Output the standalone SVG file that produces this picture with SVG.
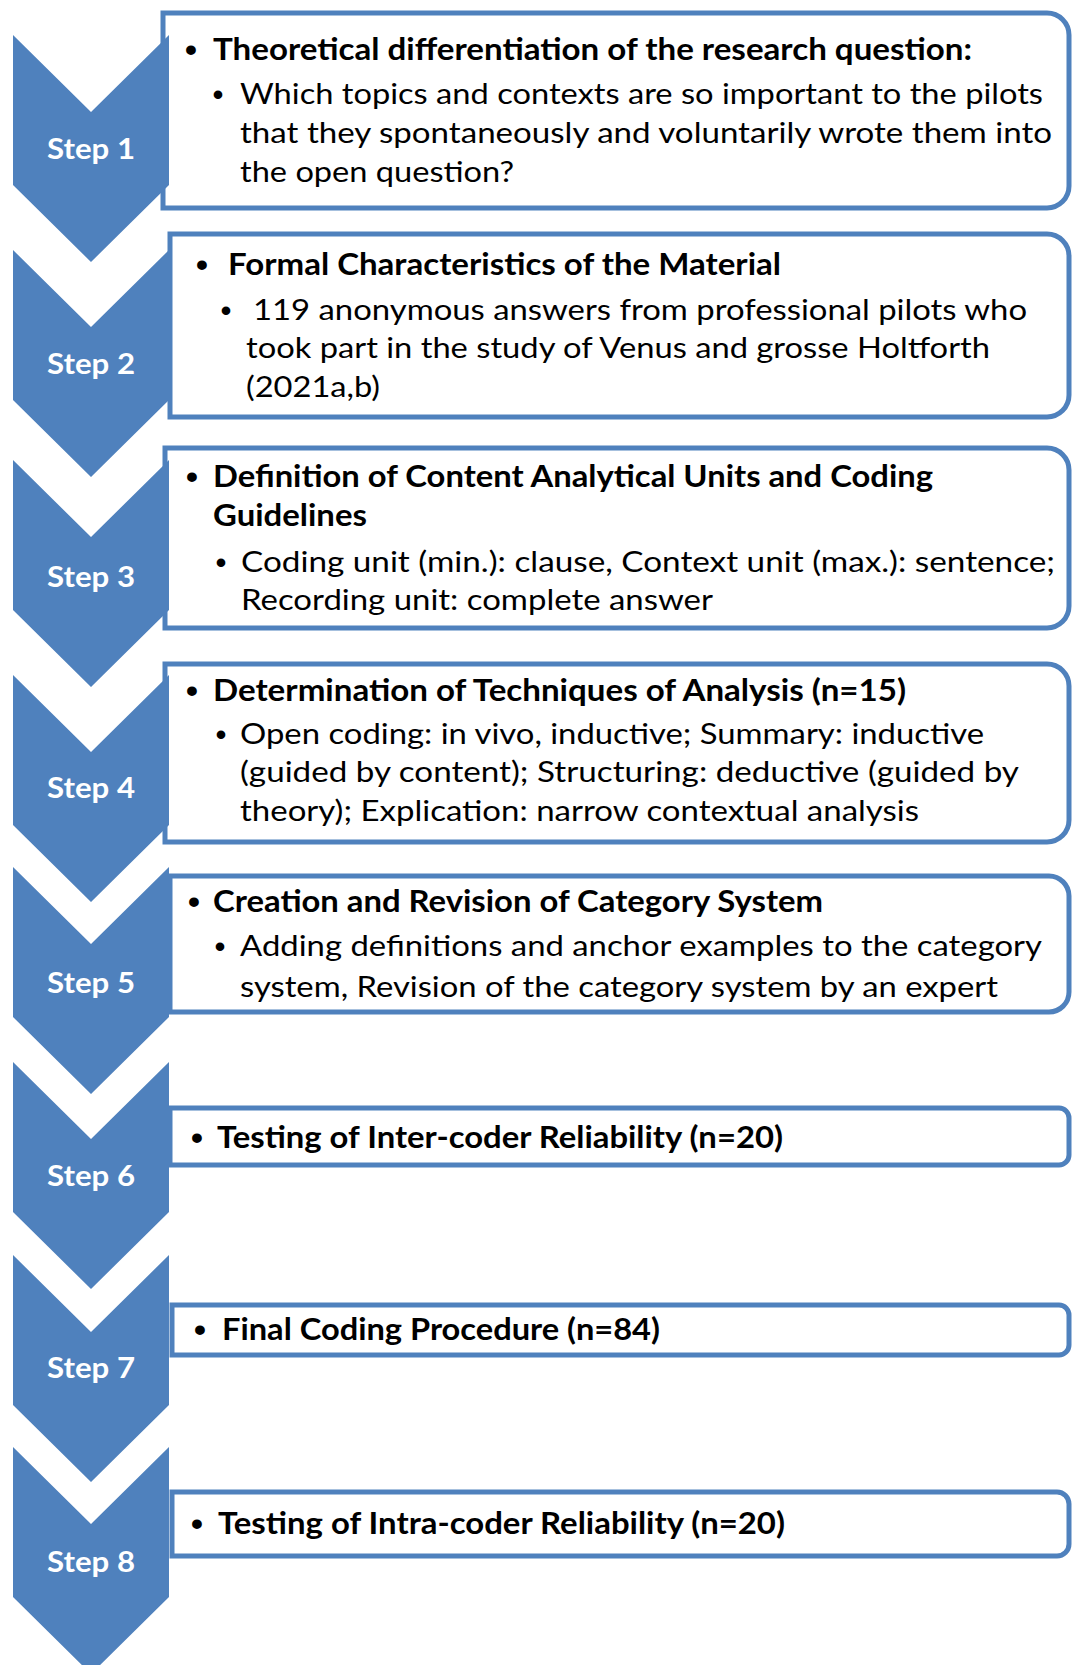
<svg xmlns="http://www.w3.org/2000/svg" width="1072" height="1665" viewBox="0 0 1072 1665">
  <style>
    .chev { fill: #4f81bd; }
    .box { fill: #ffffff; stroke: #4f81bd; stroke-width: 5; }
    .step { font-family: Lato, "Liberation Sans", sans-serif; font-weight: bold; font-size: 28px; fill: #ffffff; text-anchor: middle; }
    .h { font-family: Lato, "Liberation Sans", sans-serif; font-weight: bold; font-size: 31px; fill: #000000; }
    .b { font-family: Lato, "Liberation Sans", sans-serif; font-size: 28px; fill: #000000; }
    .bul { font-family: "Liberation Sans", sans-serif; font-weight: bold; fill: #000000; text-anchor: middle; }
    .bh { font-size: 34px; }
    .bb { font-size: 30px; }
  </style>
  <rect width="1072" height="1665" fill="#ffffff"/>

  <!-- text boxes: square left corners, rounded right corners -->
  <g id="box1"><path class="box" d="M163,13 H1047 A22,22 0 0 1 1069,35 V186 A22,22 0 0 1 1047,208 H163 Z"/>
    <text class="bul bh" x="191" y="61">•</text>
    <text class="h" x="213" y="60" textLength="759" lengthAdjust="spacingAndGlyphs">Theoretical differentiation of the research question:</text>
    <text class="bul bb" x="218" y="105">•</text>
    <text class="b" x="240" y="104" textLength="803" lengthAdjust="spacingAndGlyphs">Which topics and contexts are so important to the pilots</text>
    <text class="b" x="240" y="143" textLength="812" lengthAdjust="spacingAndGlyphs">that they spontaneously and voluntarily wrote them into</text>
    <text class="b" x="240" y="182" textLength="274" lengthAdjust="spacingAndGlyphs">the open question?</text>
  </g>
  <g id="box2"><path class="box" d="M170,234 H1047 A22,22 0 0 1 1069,256 V395 A22,22 0 0 1 1047,417 H170 Z"/>
    <text class="bul bh" x="202" y="276">•</text>
    <text class="h" x="228" y="275" textLength="553" lengthAdjust="spacingAndGlyphs">Formal Characteristics of the Material</text>
    <text class="bul bb" x="226" y="321">•</text>
    <text class="b" x="253" y="320" textLength="774" lengthAdjust="spacingAndGlyphs">119 anonymous answers from professional pilots who</text>
    <text class="b" x="246" y="358" textLength="744" lengthAdjust="spacingAndGlyphs">took part in the study of Venus and grosse Holtforth</text>
    <text class="b" x="246" y="397" textLength="134" lengthAdjust="spacingAndGlyphs">(2021a,b)</text>
  </g>
  <g id="box3"><path class="box" d="M165,448 H1047 A22,22 0 0 1 1069,470 V606 A22,22 0 0 1 1047,628 H165 Z"/>
    <text class="bul bh" x="192" y="488">•</text>
    <text class="h" x="213" y="487" textLength="720" lengthAdjust="spacingAndGlyphs">Definition of Content Analytical Units and Coding</text>
    <text class="h" x="213" y="526" textLength="154" lengthAdjust="spacingAndGlyphs">Guidelines</text>
    <text class="bul bb" x="221" y="573">•</text>
    <text class="b" x="241" y="572" textLength="814" lengthAdjust="spacingAndGlyphs">Coding unit (min.): clause, Context unit (max.): sentence;</text>
    <text class="b" x="241" y="610" textLength="472" lengthAdjust="spacingAndGlyphs">Recording unit: complete answer</text>
  </g>
  <g id="box4"><path class="box" d="M165,664 H1047 A22,22 0 0 1 1069,686 V820 A22,22 0 0 1 1047,842 H165 Z"/>
    <text class="bul bh" x="192" y="702">•</text>
    <text class="h" x="213" y="701" textLength="693" lengthAdjust="spacingAndGlyphs">Determination of Techniques of Analysis (n=15)</text>
    <text class="bul bb" x="221" y="745">•</text>
    <text class="b" x="240" y="744" textLength="744" lengthAdjust="spacingAndGlyphs">Open coding: in vivo, inductive; Summary: inductive</text>
    <text class="b" x="240" y="782" textLength="779" lengthAdjust="spacingAndGlyphs">(guided by content); Structuring: deductive (guided by</text>
    <text class="b" x="240" y="821" textLength="679" lengthAdjust="spacingAndGlyphs">theory); Explication: narrow contextual analysis</text>
  </g>
  <g id="box5"><path class="box" d="M170,876 H1049 A20,20 0 0 1 1069,896 V992 A20,20 0 0 1 1049,1012 H170 Z"/>
    <text class="bul bh" x="194" y="913">•</text>
    <text class="h" x="213" y="912" textLength="610" lengthAdjust="spacingAndGlyphs">Creation and Revision of Category System</text>
    <text class="bul bb" x="220" y="957">•</text>
    <text class="b" x="240" y="956" textLength="802" lengthAdjust="spacingAndGlyphs">Adding definitions and anchor examples to the category</text>
    <text class="b" x="240" y="997" textLength="758" lengthAdjust="spacingAndGlyphs">system, Revision of the category system by an expert</text>
  </g>
  <g id="box6"><path class="box" d="M170,1108 H1059 A10,10 0 0 1 1069,1118 V1155 A10,10 0 0 1 1059,1165 H170 Z"/>
    <text class="bul bh" x="197" y="1149">•</text>
    <text class="h" x="217" y="1148" textLength="566" lengthAdjust="spacingAndGlyphs">Testing of Inter-coder Reliability (n=20)</text>
  </g>
  <g id="box7"><path class="box" d="M172,1305 H1059 A10,10 0 0 1 1069,1315 V1345 A10,10 0 0 1 1059,1355 H172 Z"/>
    <text class="bul bh" x="200" y="1341">•</text>
    <text class="h" x="222" y="1340" textLength="438" lengthAdjust="spacingAndGlyphs">Final Coding Procedure (n=84)</text>
  </g>
  <g id="box8"><path class="box" d="M172,1492 H1057 A12,12 0 0 1 1069,1504 V1544 A12,12 0 0 1 1057,1556 H172 Z"/>
    <text class="bul bh" x="197" y="1535">•</text>
    <text class="h" x="218" y="1534" textLength="567" lengthAdjust="spacingAndGlyphs">Testing of Intra-coder Reliability (n=20)</text>
  </g>

  <!-- step chevrons pointing down -->
  <g id="connectors">
    <g id="step1"><path class="chev" d="M13,35 L91,112 L169,35 V185 L91,262 L13,185 Z"/><text class="step" x="91" y="159" textLength="88" lengthAdjust="spacingAndGlyphs">Step 1</text></g>
    <g id="step2"><path class="chev" d="M13,250 L91,327 L169,250 V400 L91,477 L13,400 Z"/><text class="step" x="91" y="374" textLength="88" lengthAdjust="spacingAndGlyphs">Step 2</text></g>
    <g id="step3"><path class="chev" d="M13,460 L91,537 L169,460 V610 L91,687 L13,610 Z"/><text class="step" x="91" y="587" textLength="88" lengthAdjust="spacingAndGlyphs">Step 3</text></g>
    <g id="step4"><path class="chev" d="M13,675 L91,752 L169,675 V825 L91,902 L13,825 Z"/><text class="step" x="91" y="798" textLength="88" lengthAdjust="spacingAndGlyphs">Step 4</text></g>
    <g id="step5"><path class="chev" d="M13,867 L91,944 L169,867 V1017 L91,1094 L13,1017 Z"/><text class="step" x="91" y="993" textLength="88" lengthAdjust="spacingAndGlyphs">Step 5</text></g>
    <g id="step6"><path class="chev" d="M13,1062 L91,1139 L169,1062 V1212 L91,1289 L13,1212 Z"/><text class="step" x="91" y="1186" textLength="88" lengthAdjust="spacingAndGlyphs">Step 6</text></g>
    <g id="step7"><path class="chev" d="M13,1255 L91,1332 L169,1255 V1405 L91,1482 L13,1405 Z"/><text class="step" x="91" y="1378" textLength="88" lengthAdjust="spacingAndGlyphs">Step 7</text></g>
    <g id="step8"><path class="chev" d="M13,1447 L91,1524 L169,1447 V1597 L91,1674 L13,1597 Z"/><text class="step" x="91" y="1572" textLength="88" lengthAdjust="spacingAndGlyphs">Step 8</text></g>
  </g>
</svg>
